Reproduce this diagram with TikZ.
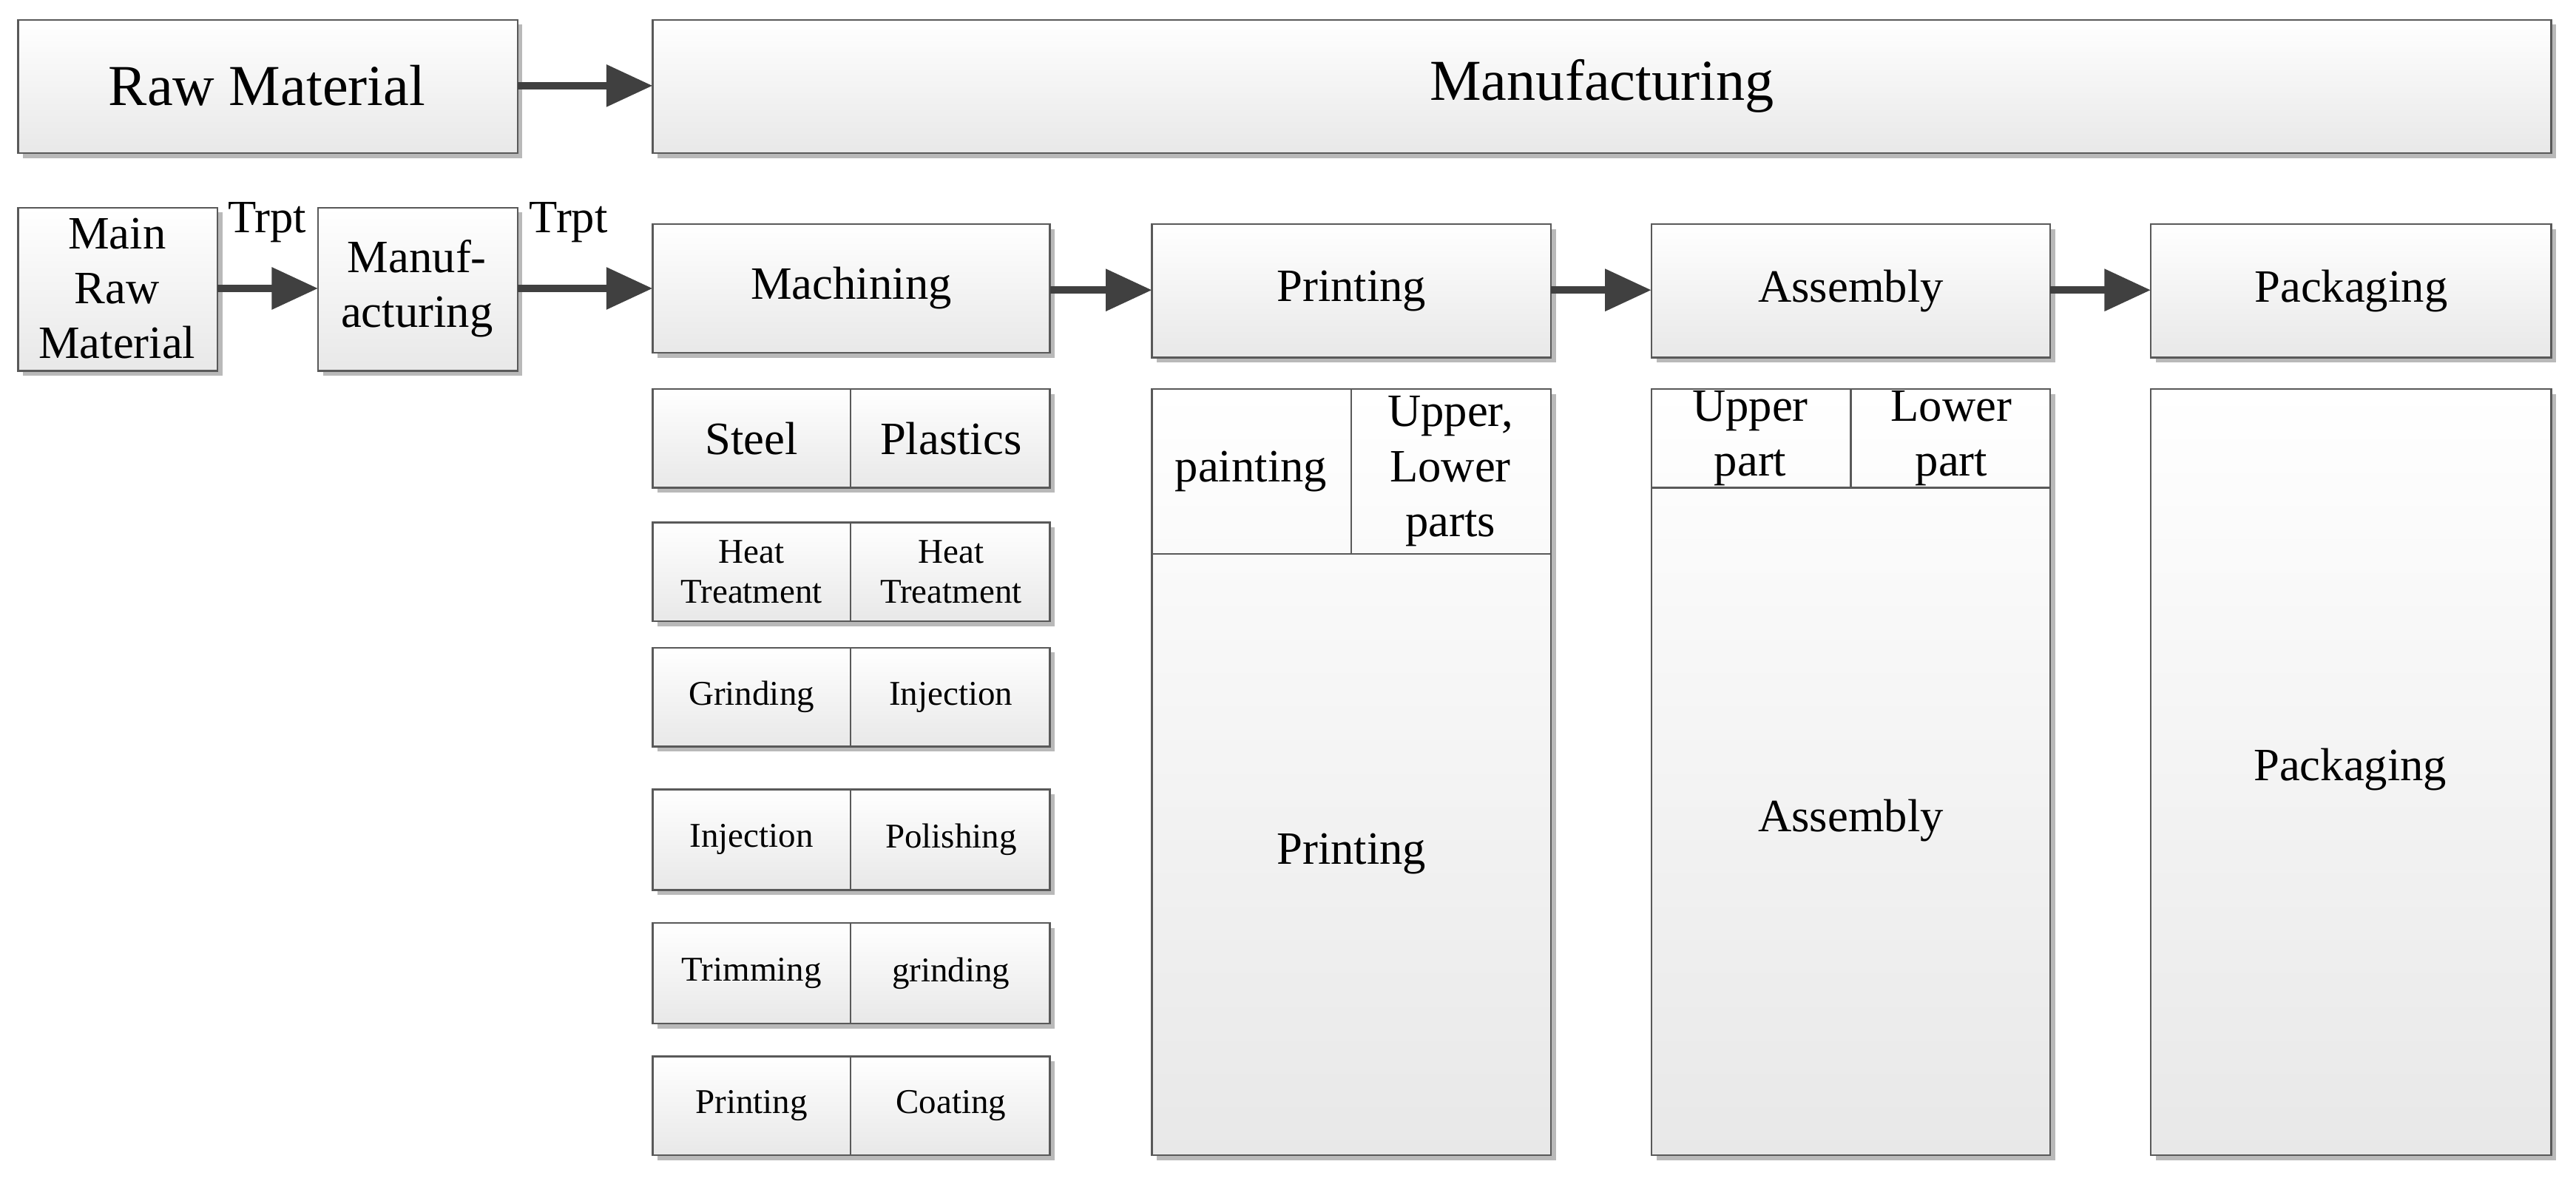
\documentclass[tikz,border=0pt]{standalone}
\usepackage{fontspec}
\setmainfont{Liberation Serif}
\usetikzlibrary{arrows.meta}
\begin{document}
\begin{tikzpicture}[x=0.02cm,y=-0.02cm,
  bx/.style={draw=gray!70!black,line width=0.6pt,top color=white,bottom color=gray!18},
  sh/.style={fill=gray!55},
  ar/.style={draw=black!75,line width=2.6pt,-{Triangle[length=16pt,width=14pt]}},
  L/.style={font=\fontsize{20}{22}\selectfont,align=center},
  M/.style={font=\fontsize{16}{19}\selectfont,align=center},
  S/.style={font=\fontsize{12}{14}\selectfont,align=center}]
\useasboundingbox (0,0) rectangle (1563,718);
% top row
\fill[sh] (14,15) rectangle (317,96); \path[bx] (11,12) rectangle (314,93);
\node[L] (raw) at (162,52) {Raw Material};
\fill[sh] (399,15) rectangle (1551,96); \path[bx] (396,12) rectangle (1548,93);
\node[L] (man) at (972,52) {Manufacturing};
\coordinate (rawE) at (314,52); \coordinate (manW) at (396,52);
\draw[ar] (rawE) -- (manW);
% second row
\fill[sh] (14,129) rectangle (135,228); \path[bx] (11,126) rectangle (132,225);
\node[M] (mrm) at (71,175) {Main\\Raw\\Material};
\fill[sh] (196,129) rectangle (317,228); \path[bx] (193,126) rectangle (314,225);
\node[M] (mf) at (253,175) {Manuf-\\acturing};
\coordinate (a1) at (132,175); \coordinate (a2) at (193,175);
\coordinate (a3) at (314,175); \coordinate (a4) at (396,175);
\draw[ar] (a1) -- (a2); \draw[ar] (a3) -- (a4);
\node[M] (t1) at (162,135) {Trpt};
\node[M] (t2) at (345,135) {Trpt};
\foreach \x/\w/\t/\b/\n in {396/637/136/214/Machining,699/941/136/217/Printing,1002/1244/136/217/Assembly,1305/1548/136/217/Packaging}{
  \fill[sh] (\x+3,\t+3) rectangle (\w+3,\b+3); \path[bx] (\x,\t) rectangle (\w,\b);
  \node[M] (h\n) at ({(\x+\w)/2},{(\t+\b)/2}) {\n};}
\coordinate (b1) at (637,176); \coordinate (b2) at (699,176);
\coordinate (b3) at (941,176); \coordinate (b4) at (1002,176);
\coordinate (b5) at (1244,176); \coordinate (b6) at (1305,176);
\draw[ar] (b1) -- (b2); \draw[ar] (b3) -- (b4); \draw[ar] (b5) -- (b6);
% machining rows
\foreach \t/\b/\l/\r/\st [count=\i] in {236/296/Steel/Plastics/M,317/377/{Heat\\Treatment}/{Heat\\Treatment}/S,393/453/Grinding/Injection/S,479/540/Injection/Polishing/S,560/621/Trimming/grinding/S,641/701/Printing/Coating/S}{
  \fill[sh] (399,\t+3) rectangle (640,\b+3);
  \path[bx] (396,\t) rectangle (637,\b);
  \draw[gray!70!black,line width=0.6pt] (516,\t) -- (516,\b);
  \node[\st] (ml\i) at (456,{(\t+\b)/2}) {\l};
  \node[\st] (mr\i) at (577,{(\t+\b)/2}) {\r};}
% printing column
\fill[sh] (702,239) rectangle (944,704); \path[bx] (699,236) rectangle (941,701);
\draw[gray!70!black,line width=0.6pt] (699,336) -- (941,336) (820,236) -- (820,336);
\node[M] (pp) at (759,286) {painting};
\node[M] (pu) at (880,286) {Upper,\\Lower\\parts};
\node[M] (pb) at (820,518) {Printing};
% assembly column
\fill[sh] (1005,239) rectangle (1247,704); \path[bx] (1002,236) rectangle (1244,701);
\draw[gray!70!black,line width=0.6pt] (1002,296) -- (1244,296) (1123,236) -- (1123,296);
\node[M] (au) at (1062,266) {Upper\\part};
\node[M] (al) at (1184,266) {Lower\\part};
\node[M] (ab) at (1123,498) {Assembly};
% packaging column
\fill[sh] (1308,239) rectangle (1551,704); \path[bx] (1305,236) rectangle (1548,701);
\node[M] (pk) at (1426,467) {Packaging};
\end{tikzpicture}
\end{document}
